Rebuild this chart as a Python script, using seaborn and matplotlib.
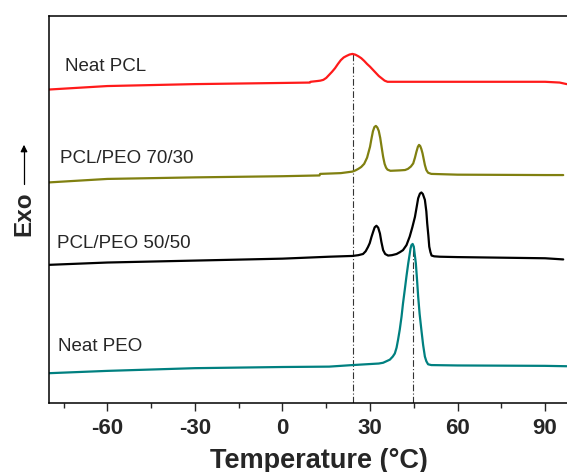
import pandas as pd
import matplotlib.pyplot as plt
import seaborn as sns

# DSC cooling curves (heat flow, arbitrary offset units)
pcl_t = [-80, -60, -30, 0, 9.4, 9.6, 12, 13, 14, 15, 16, 17, 18, 19, 20, 21, 22, 23, 24, 25, 26, 27, 28, 29,
         30, 31, 32, 33, 34, 35, 36, 40, 60, 90, 95, 97.4]
pcl_y = [81.0, 81.9, 82.4, 82.7, 82.8, 83.0, 83.2, 83.3, 83.5, 84.0, 84.8, 85.6, 86.5, 87.6, 88.6, 89.3, 89.7, 90.05,
         90.2, 90.0, 89.6, 89.1, 88.4, 87.6, 86.9, 86.1, 85.3, 84.5, 83.9, 83.3, 83.0, 83.0, 83.0, 83.0, 82.8, 82.4]

b73_t = [-80, -60, -30, 0, 12.7, 12.9, 20, 24, 25, 26, 27, 28, 29, 30, 30.5, 31, 31.5, 32, 32.5, 33, 33.5, 34,
         34.5, 35, 35.5, 36, 37, 40, 42, 43, 44, 44.8, 45.4, 45.9, 46.4, 46.8, 47.2, 47.6, 48.0, 48.4, 48.8,
         49.3, 49.9, 51, 60, 90, 96.2]
b73_y = [57.0, 57.9, 58.3, 58.6, 58.8, 59.2, 59.4, 59.8, 60.1, 60.5, 61.0, 61.8, 63.4, 66.2, 68.3, 70.2, 71.3, 71.6,
         71.2, 70.3, 68.5, 66.0, 63.6, 61.8, 60.8, 60.3, 60.0, 60.1, 60.2, 60.5, 61.1, 61.9, 63.4, 64.9, 66.2,
         66.7, 66.4, 65.6, 64.5, 63.0, 61.5, 60.2, 59.5, 59.2, 59.0, 58.9, 58.9]

b55_t = [-80, -60, -30, 0, 16, 24, 26, 27.6, 28.5, 29.3, 29.9, 30.5, 31.1, 31.6, 32.2, 32.8, 33.4, 33.9, 34.5,
         35.2, 36.2, 37.5, 39.1, 40.3, 41.3, 42.5, 43.6, 44.5, 45.4, 46.0, 46.5, 47.1, 47.6, 48.1, 48.8, 49.3,
         49.6, 50.0, 50.3, 50.7, 51.1, 52, 53.9, 60, 90, 96.2]
b55_y = [35.7, 36.3, 36.8, 37.3, 37.8, 38.0, 38.2, 38.5, 39.2, 40.3, 41.3, 42.9, 44.3, 45.4, 45.8, 45.3, 43.8, 41.6,
         39.5, 38.5, 38.1, 38.2, 38.5, 39.0, 39.5, 40.8, 43.0, 45.4, 48.1, 50.7, 52.9, 54.1, 54.4, 54.0, 52.5,
         49.5, 46.4, 43.2, 40.4, 39.0, 38.1, 37.9, 37.8, 37.7, 37.4, 37.1]

peo_t = [-80, -60, -30, 0, 16, 24, 33, 34.5, 36.8, 37.8, 38.5, 39.1, 39.6, 40.2, 40.8, 41.3, 41.9, 42.5, 43.1,
         43.6, 43.9, 44.2, 44.6, 45.0, 45.7, 46.1, 46.5, 47.0, 47.6, 48.2, 48.8, 49.3, 49.9, 51, 60, 90, 97.4]
peo_y = [7.7, 8.3, 9.0, 9.3, 9.4, 9.8, 10.2, 10.4, 11.2, 12.0, 12.8, 14.3, 16.3, 19.0, 22.3, 25.7, 29.2, 32.8, 36.1,
         38.5, 40.0, 40.8, 41.1, 40.4, 36.1, 32.0, 27.5, 23.0, 18.9, 15.0, 12.0, 10.8, 10.0, 9.8, 9.7, 9.6, 9.5]

names = ["Neat PCL", "PCL/PEO 70/30", "PCL/PEO 50/50", "Neat PEO"]
colors = ["#ff1a1a", "#808010", "#000000", "#008080"]
label_t = [-74.6, -76.1, -77.1, -76.9]
label_y = [86.9, 63.2, 41.3, 14.7]

# crystallisation peak temperatures marked with dash-dot lines
tc_pcl, tc_pcl_top = 24.0, 90.2
tc_peo, tc_peo_top = 44.6, 41.1

df = pd.concat([
    pd.DataFrame({"T": t, "hf": y, "sample": n})
    for t, y, n in zip([pcl_t, b73_t, b55_t, peo_t], [pcl_y, b73_y, b55_y, peo_y], names)
])

sns.set_style("ticks")
plt.rcParams["font.family"] = ["Liberation Sans", "DejaVu Sans"]
plt.rcParams["axes.unicode_minus"] = False
plt.rcParams["lines.solid_joinstyle"] = "round"

fig = plt.figure(figsize=(5.67, 4.72), dpi=100)
ax = fig.add_axes([49 / 567, 69 / 472, 1 - 49 / 567, 387 / 472])

sns.lineplot(data=df, x="T", y="hf", hue="sample", palette=dict(zip(names, colors)),
             estimator=None, sort=False, linewidth=1.6, legend=False, ax=ax)

ax.vlines([tc_pcl, tc_peo], 0, [tc_pcl_top, tc_peo_top], colors="#333333",
          linestyles=(0, (6, 2, 1, 2)), linewidth=0.8, zorder=1)

for n, tx, ty in zip(names, label_t, label_y):
    ax.text(tx, ty, n, fontsize=13.5, va="center", ha="left")

ax.set_xlim(-80, 97.5)
ax.set_ylim(0, 100)
ax.set_xticks([-60, -30, 0, 30, 60, 90])
ax.set_xticks([-75, -45, -15, 15, 45, 75], minor=True)
ax.set_yticks([])
ax.tick_params(axis="x", which="major", direction="out", length=6, width=1.0, labelsize=16, pad=5)
ax.tick_params(axis="x", which="minor", direction="out", length=3.5, width=1.0)
for lbl in ax.get_xticklabels():
    lbl.set_fontweight("bold")
for side in ["left", "bottom", "top"]:
    ax.spines[side].set_linewidth(1.1)
    ax.spines[side].set_color("black")
ax.spines["right"].set_visible(False)

ax.set_xlabel("Temperature (°C)", fontsize=19.5, fontweight="bold")
ax.xaxis.set_label_coords((319 - 49) / (567 - 49), -0.115)
ax.set_ylabel("")

fig.text(24 / 567, 1 - 214 / 472, "Exo", rotation=90, fontsize=17.5, fontweight="bold",
         ha="center", va="center")
fig.add_artist(plt.Line2D([24 / 567, 24 / 567], [1 - 184 / 472, 1 - 150 / 472], color="black", linewidth=0.9))
ax.annotate("", xy=(24 / 567, 1 - 142 / 472), xytext=(24 / 567, 1 - 152 / 472),
            xycoords="figure fraction", textcoords="figure fraction",
            arrowprops=dict(arrowstyle="-|>", color="black", lw=0.9, mutation_scale=10),
            annotation_clip=False)

fig.savefig("out.png", dpi=100)
